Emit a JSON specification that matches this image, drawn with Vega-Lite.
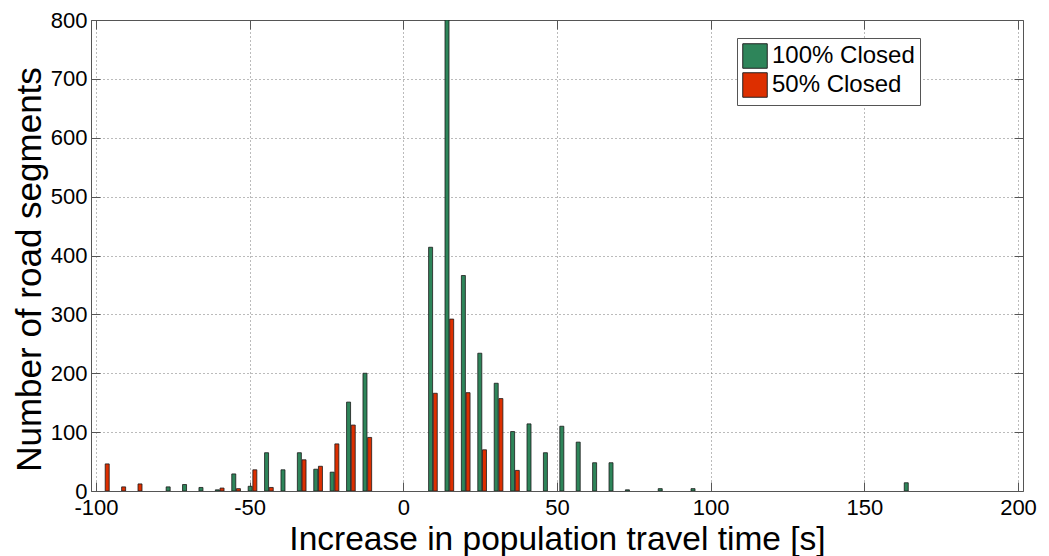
{
  "$schema": "https://vega.github.io/schema/vega-lite/v6.json",
  "width": 932,
  "height": 471,
  "autosize": {"type": "none"},
  "padding": {"left": 91, "top": 20, "right": 26, "bottom": 65},
  "background": "white",
  "config": {"font": "Liberation Sans", "view": {"stroke": null}},
  "data": {"values": [
    {"x": -96.35, "series": "50% Closed", "count": 46},
    {"x": -91.01, "series": "50% Closed", "count": 7},
    {"x": -85.68, "series": "50% Closed", "count": 12},
    {"x": -76.52, "series": "100% Closed", "count": 7},
    {"x": -71.19, "series": "100% Closed", "count": 11},
    {"x": -65.85, "series": "100% Closed", "count": 6},
    {"x": -60.51, "series": "100% Closed", "count": 2},
    {"x": -58.99, "series": "50% Closed", "count": 5},
    {"x": -55.17, "series": "100% Closed", "count": 29},
    {"x": -53.65, "series": "50% Closed", "count": 4},
    {"x": -49.84, "series": "100% Closed", "count": 8},
    {"x": -48.32, "series": "50% Closed", "count": 36},
    {"x": -44.50, "series": "100% Closed", "count": 65},
    {"x": -42.98, "series": "50% Closed", "count": 6},
    {"x": -39.16, "series": "100% Closed", "count": 36},
    {"x": -33.83, "series": "100% Closed", "count": 65},
    {"x": -32.31, "series": "50% Closed", "count": 53},
    {"x": -28.49, "series": "100% Closed", "count": 37},
    {"x": -26.97, "series": "50% Closed", "count": 42},
    {"x": -23.15, "series": "100% Closed", "count": 32},
    {"x": -21.63, "series": "50% Closed", "count": 80},
    {"x": -17.82, "series": "100% Closed", "count": 151},
    {"x": -16.30, "series": "50% Closed", "count": 112},
    {"x": -12.48, "series": "100% Closed", "count": 200},
    {"x": -10.96, "series": "50% Closed", "count": 91},
    {"x": 8.87, "series": "100% Closed", "count": 414},
    {"x": 10.39, "series": "50% Closed", "count": 166},
    {"x": 14.21, "series": "100% Closed", "count": 800},
    {"x": 15.73, "series": "50% Closed", "count": 292},
    {"x": 19.54, "series": "100% Closed", "count": 366},
    {"x": 21.06, "series": "50% Closed", "count": 167},
    {"x": 24.88, "series": "100% Closed", "count": 234},
    {"x": 26.40, "series": "50% Closed", "count": 70},
    {"x": 30.22, "series": "100% Closed", "count": 183},
    {"x": 31.74, "series": "50% Closed", "count": 157},
    {"x": 35.56, "series": "100% Closed", "count": 101},
    {"x": 37.08, "series": "50% Closed", "count": 35},
    {"x": 40.89, "series": "100% Closed", "count": 114},
    {"x": 46.23, "series": "100% Closed", "count": 65},
    {"x": 51.57, "series": "100% Closed", "count": 110},
    {"x": 56.90, "series": "100% Closed", "count": 83},
    {"x": 62.24, "series": "100% Closed", "count": 48},
    {"x": 67.58, "series": "100% Closed", "count": 48},
    {"x": 72.91, "series": "100% Closed", "count": 2},
    {"x": 83.59, "series": "100% Closed", "count": 4},
    {"x": 94.26, "series": "100% Closed", "count": 4},
    {"x": 163.64, "series": "100% Closed", "count": 14}
  ]},
  "layer": [
    {
      "mark": {"type": "bar", "size": 4, "stroke": "#1a1a1a", "strokeWidth": 0.8, "clip": true},
      "encoding": {
        "x": {
          "field": "x", "type": "quantitative",
          "scale": {"domain": [-100, 200], "nice": false, "zero": false},
          "axis": {
            "values": [-100, -50, 0, 50, 100, 150, 200],
            "labelExpr": "toString(datum.value)",
            "title": "Increase in population travel time [s]",
            "titleFontSize": 33.5, "titleFontWeight": "normal", "titleColor": "black",
            "labelFontSize": 22, "labelColor": "black", "labelFlush": false,
            "domainColor": "#555", "tickColor": "#555", "tickSize": -9, "labelPadding": 15,
            "grid": true, "gridDash": [1, 3], "gridColor": "#777", "gridOpacity": 1,
            "titlePadding": 5
          }
        },
        "y": {
          "field": "count", "type": "quantitative",
          "scale": {"domain": [0, 800], "nice": false},
          "axis": {
            "values": [0, 100, 200, 300, 400, 500, 600, 700, 800],
            "labelExpr": "toString(datum.value)",
            "title": "Number of road segments",
            "titleFontSize": 35, "titleFontWeight": "normal", "titleColor": "black",
            "titleY": 249,
            "labelFontSize": 22, "labelColor": "black", "labelFlush": false,
            "domainColor": "#555", "tickColor": "#555", "tickSize": -9, "labelPadding": 13,
            "grid": true, "gridDash": [1, 3], "gridColor": "#777", "gridOpacity": 1,
            "titlePadding": 3
          }
        },
        "color": {
          "field": "series", "type": "nominal",
          "scale": {"domain": ["100% Closed", "50% Closed"], "range": ["#2e855a", "#dd2f00"]},
          "legend": {
            "orient": "none", "legendX": 646, "legendY": 18, "title": null,
            "symbolType": "square", "symbolSize": 600, "symbolStrokeColor": "#222",
            "symbolStrokeWidth": 1, "symbolOpacity": 1,
            "labelFontSize": 24, "labelColor": "black", "labelOffset": 4,
            "strokeColor": "#555", "fillColor": "white", "padding": 5, "rowPadding": -1
          }
        }
      }
    },
    {
      "mark": {"type": "bar", "opacity": 0},
      "encoding": {
        "x": {
          "field": "x", "type": "quantitative",
          "axis": {
            "orient": "top", "values": [-100, -50, 0, 50, 100, 150, 200],
            "labels": false, "title": null, "grid": false,
            "domainColor": "#555", "tickColor": "#555", "tickSize": -9
          }
        },
        "y": {
          "field": "count", "type": "quantitative",
          "axis": {
            "orient": "right", "values": [0, 100, 200, 300, 400, 500, 600, 700, 800],
            "labels": false, "title": null, "grid": false,
            "domainColor": "#555", "tickColor": "#555", "tickSize": -9
          }
        }
      }
    }
  ],
  "resolve": {"axis": {"x": "independent", "y": "independent"}}
}
